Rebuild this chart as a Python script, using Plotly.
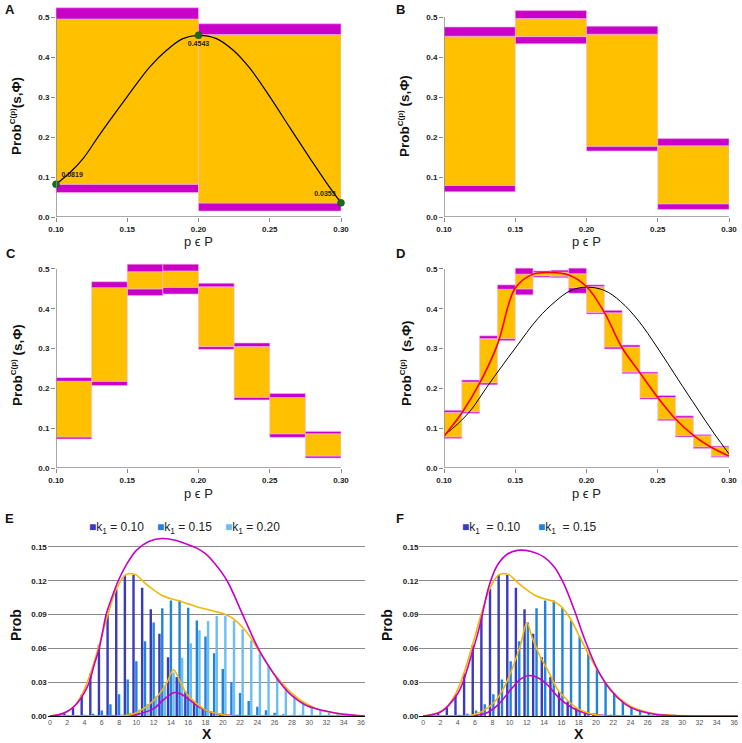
import plotly.graph_objects as go

FONT = "Liberation Sans, Arial, sans-serif"
MAG = "#C800C8"
YEL = "#FFC000"
EDGE = "#F4B6EE"

# ---------------- Panels A-D : interval probability bars ----------------
A_edges = [0.10, 0.20, 0.30]
A_bot = [0.061, 0.015]
A_low = [0.082, 0.035]
A_high = [0.495, 0.456]
A_top = [0.523, 0.483]

B_edges = [0.10, 0.15, 0.20, 0.25, 0.30]
B_bot = [0.063, 0.433, 0.165, 0.019]
B_low = [0.079, 0.451, 0.177, 0.033]
B_high = [0.452, 0.496, 0.457, 0.178]
B_top = [0.475, 0.516, 0.477, 0.196]

C_edges = [0.100, 0.125, 0.150, 0.175, 0.200, 0.225, 0.250, 0.275, 0.300]
C_bot = [0.073, 0.207, 0.433, 0.437, 0.298, 0.171, 0.077, 0.025]
C_low = [0.078, 0.218, 0.450, 0.454, 0.305, 0.178, 0.086, 0.030]
C_high = [0.218, 0.453, 0.493, 0.495, 0.455, 0.305, 0.177, 0.086]
C_top = [0.227, 0.468, 0.512, 0.512, 0.464, 0.314, 0.187, 0.092]

D_edges = [0.1000, 0.1125, 0.1250, 0.1375, 0.1500, 0.1625, 0.1750, 0.1875, 0.2000,
           0.2125, 0.2250, 0.2375, 0.2500, 0.2625, 0.2750, 0.2875, 0.3000]
D_bot = [0.074, 0.137, 0.209, 0.320, 0.435, 0.479, 0.478, 0.439, 0.387, 0.299, 0.237, 0.173, 0.119, 0.078, 0.049, 0.027]
D_low = [0.078, 0.141, 0.214, 0.325, 0.450, 0.483, 0.482, 0.453, 0.391, 0.304, 0.241, 0.177, 0.123, 0.082, 0.053, 0.030]
D_high = [0.140, 0.216, 0.325, 0.449, 0.487, 0.491, 0.492, 0.488, 0.456, 0.390, 0.304, 0.237, 0.177, 0.126, 0.081, 0.052]
D_top = [0.145, 0.221, 0.332, 0.460, 0.502, 0.495, 0.497, 0.502, 0.460, 0.396, 0.309, 0.241, 0.182, 0.131, 0.084, 0.055]

# labelled points of the black curve
curve_p = [0.10, 0.20, 0.30]
curve_prob = [0.0819, 0.4543, 0.0355]
curve_labels = ["0.0819", "0.4543", "0.0355"]
# black smooth curve read along its path
black_p = [0.100, 0.110, 0.119, 0.131, 0.150, 0.166, 0.178, 0.189, 0.200,
           0.2126, 0.224, 0.236, 0.250, 0.264, 0.278, 0.2897, 0.300]
black_prob = [0.0819, 0.112, 0.146, 0.208, 0.301, 0.376, 0.418, 0.446, 0.4543,
              0.446, 0.418, 0.372, 0.301, 0.224, 0.148, 0.086, 0.0355]

D_red_p = [0.1000, 0.1125, 0.1250, 0.1375, 0.1500, 0.1625, 0.1750, 0.1875, 0.2000,
           0.2125, 0.2250, 0.2375, 0.2500, 0.2625, 0.2750, 0.2875, 0.3000]
D_red_prob = [0.080, 0.138, 0.213, 0.310, 0.452, 0.487, 0.491, 0.485, 0.456,
              0.391, 0.302, 0.239, 0.177, 0.123, 0.082, 0.052, 0.030]

p_ticks = [0.10, 0.15, 0.20, 0.25, 0.30]
p_ticktext = ["0.10", "0.15", "0.20", "0.25", "0.30"]
prob_ticks = [0.0, 0.1, 0.2, 0.3, 0.4, 0.5]
prob_ticktext = ["0.0", "0.1", "0.2", "0.3", "0.4", "0.5"]

# ---------------- Panels E-F : distributions ----------------
X_vals = list(range(0, 37))
k010 = [0.0000, 0.0005, 0.0023, 0.0076, 0.0189, 0.0378, 0.0631, 0.0901, 0.1126, 0.1251,
        0.1251, 0.1137, 0.0948, 0.0729, 0.0521, 0.0347, 0.0217, 0.0128, 0.0071, 0.0037,
        0.0019, 0.0009, 0.0004, 0.0002, 0.0001, 0.0000, 0.0000, 0.0000, 0.0000, 0.0000,
        0.0000, 0.0000, 0.0000, 0.0000, 0.0000, 0.0000, 0.0000]
k015 = [0.0000, 0.0000, 0.0000, 0.0002, 0.0006, 0.0019, 0.0048, 0.0104, 0.0194, 0.0324,
        0.0486, 0.0663, 0.0829, 0.0956, 0.1024, 0.1024, 0.0960, 0.0847, 0.0706, 0.0557,
        0.0418, 0.0299, 0.0204, 0.0133, 0.0083, 0.0050, 0.0029, 0.0016, 0.0009, 0.0004,
        0.0002, 0.0001, 0.0000, 0.0000, 0.0000, 0.0000, 0.0000]
k020 = [0.0000, 0.0000, 0.0000, 0.0000, 0.0000, 0.0001, 0.0002, 0.0005, 0.0013, 0.0029,
        0.0058, 0.0106, 0.0176, 0.0271, 0.0387, 0.0516, 0.0646, 0.0760, 0.0844, 0.0888,
        0.0888, 0.0846, 0.0769, 0.0669, 0.0557, 0.0446, 0.0343, 0.0254, 0.0181, 0.0125,
        0.0083, 0.0054, 0.0034, 0.0020, 0.0012, 0.0007, 0.0004]

E_env_x = [0, 1, 2, 3, 4, 4.55, 5.1, 5.7, 6.1, 6.5, 7.2, 7.9, 8.9, 10, 11.5, 13, 14.5, 16, 17,
           18, 19, 20.5, 22.3, 24.1, 25.5, 26.6, 28, 29.5, 31, 32.5, 34, 36.4]
E_env_y = [0, 0.001, 0.004, 0.010, 0.021, 0.030, 0.045, 0.060, 0.075, 0.090, 0.106, 0.120,
           0.135, 0.147, 0.155, 0.1575, 0.156, 0.152, 0.149, 0.144, 0.136, 0.120, 0.090,
           0.060, 0.042, 0.030, 0.018, 0.010, 0.006, 0.0035, 0.0015, 0]
E_max_x = [0, 1.7, 2.7, 3.7, 4.7, 5.7, 6.7, 7.7, 8.7, 9.3, 10, 11, 12, 13, 14, 15, 16, 17, 18,
           19, 20, 21, 22, 23, 24, 25, 26, 27, 28, 29, 30, 31, 32, 34, 36.4]
E_max_y = [0, 0.003, 0.008, 0.019, 0.038, 0.063, 0.090, 0.113, 0.125, 0.1265, 0.125, 0.118,
           0.112, 0.107, 0.104, 0.102, 0.0995, 0.097, 0.095, 0.093, 0.091, 0.0875, 0.081,
           0.072, 0.060, 0.048, 0.037, 0.028, 0.020, 0.014, 0.0095, 0.006, 0.004, 0.0015, 0]
E_min_x = [0, 4, 8, 9.7, 11.6, 12.7, 13.5, 14.3, 15.1, 15.8, 17, 18.1, 19.7, 21.2, 25, 30, 36.4]
E_min_y = [0, 0, 0, 0.002, 0.011, 0.020, 0.029, 0.041, 0.030, 0.020, 0.011, 0.005, 0.0015, 0, 0, 0, 0]
E_low_x = [0, 4, 8, 9, 10.4, 12, 13.1, 14.3, 15.1, 16.2, 17.4, 18.9, 20.5, 22, 26, 31, 36.4]
E_low_y = [0, 0, 0, 0, 0.002, 0.0065, 0.014, 0.0207, 0.0198, 0.014, 0.0074, 0.0027, 0.0006, 0, 0, 0, 0]

F_env_x = [0, 2, 4, 4.6, 5.5, 6.2, 6.7, 7.6, 8.6, 9.8, 10.9, 12.5, 14, 15.2, 16.3, 17.5, 18.6,
           20.2, 21.7, 23.3, 24.8, 26.8, 28.7, 36.4]
F_env_y = [0, 0.0035, 0.020, 0.030, 0.052, 0.070, 0.085, 0.115, 0.134, 0.144, 0.147, 0.146,
           0.141, 0.132, 0.117, 0.094, 0.070, 0.041, 0.023, 0.011, 0.005, 0.0015, 0.0003, 0]
F_max_x = [0, 1.7, 2.7, 3.7, 4.7, 5.7, 6.7, 7.7, 8.7, 9.3, 10, 11, 12, 13, 14, 15, 15.5, 16,
           17, 18, 19, 20, 21, 22, 23, 24, 25, 26, 27.5, 29.5, 36.4]
F_max_y = [0, 0.003, 0.008, 0.019, 0.038, 0.063, 0.090, 0.113, 0.125, 0.1265, 0.125, 0.118,
           0.112, 0.107, 0.104, 0.102, 0.100, 0.097, 0.087, 0.072, 0.057, 0.043, 0.031, 0.021,
           0.014, 0.0088, 0.0055, 0.0033, 0.0012, 0.0003, 0]
F_min_x = [0, 3, 5.1, 6.7, 8.2, 9.4, 10.5, 11.3, 12, 12.6, 13.4, 14.6, 15.6, 16.7, 17.9, 19.4, 21, 26, 36.4]
F_min_y = [0, 0, 0, 0.0035, 0.012, 0.026, 0.046, 0.064, 0.083, 0.070, 0.055, 0.038, 0.023,
           0.014, 0.0065, 0.002, 0, 0, 0]
F_low_x = [0, 3, 5.1, 7.1, 8.6, 10.2, 11.3, 12.3, 13.5, 14.6, 15.6, 17.1, 18.6, 20.6, 23, 30, 36.4]
F_low_y = [0, 0, 0, 0.002, 0.0095, 0.024, 0.033, 0.036, 0.033, 0.026, 0.017, 0.008, 0.003,
           0.0006, 0, 0, 0]

X_ticks = list(range(0, 37, 2))
E_ticks = [0.00, 0.03, 0.06, 0.09, 0.12, 0.15]
E_ticktext = ["0.00", "0.03", "0.06", "0.09", "0.12", "0.15"]
legend_E = ["k<sub>1</sub> = 0.10", "k<sub>1</sub> = 0.15", "k<sub>1</sub> = 0.20"]
legend_F = ["k<sub>1</sub>  = 0.10", "k<sub>1</sub>  = 0.15"]
BLUE = ["#3A3ABE", "#1F84DB", "#6CBDF2"]

W, H = 742, 743
fig = go.Figure()


def xd(a, b):
    return [a / W, b / W]


def yd(bottom, top):
    return [1 - bottom / H, 1 - top / H]


def add_float(edges, bot, low, high, top, xa, ya):
    centers = [(edges[i] + edges[i + 1]) / 2 for i in range(len(edges) - 1)]
    widths = [edges[i + 1] - edges[i] for i in range(len(edges) - 1)]
    for b_list, t_list, col in [(bot, low, MAG), (low, high, YEL), (high, top, MAG)]:
        fig.add_trace(go.Bar(
            x=centers, y=[t - b for b, t in zip(b_list, t_list)], base=b_list, width=widths,
            marker=dict(color=col, line=dict(color=EDGE, width=0.6)),
            xaxis=xa, yaxis=ya, showlegend=False, hoverinfo="skip"))


add_float(A_edges, A_bot, A_low, A_high, A_top, "x", "y")
add_float(B_edges, B_bot, B_low, B_high, B_top, "x2", "y2")
add_float(C_edges, C_bot, C_low, C_high, C_top, "x3", "y3")
add_float(D_edges, D_bot, D_low, D_high, D_top, "x4", "y4")

# black curve (A) with labelled points
fig.add_trace(go.Scatter(x=black_p, y=black_prob, mode="lines", line=dict(color="black", width=1.2, shape="spline"),
                         xaxis="x", yaxis="y", showlegend=False))
fig.add_trace(go.Scatter(x=curve_p, y=curve_prob, mode="markers+text", text=curve_labels,
                         textposition=["top right", "bottom center", "top left"],
                         textfont=dict(family=FONT, size=7, color="#222", weight="bold"),
                         marker=dict(color="#1E6B1E", size=7, line=dict(color="#0E4A0E", width=0.5)),
                         xaxis="x", yaxis="y", showlegend=False, cliponaxis=False))
# D curves
fig.add_trace(go.Scatter(x=black_p, y=black_prob, mode="lines", line=dict(color="black", width=1, shape="spline"),
                         xaxis="x4", yaxis="y4", showlegend=False))
fig.add_trace(go.Scatter(x=D_red_p, y=D_red_prob, mode="lines", line=dict(color="#FF0000", width=1.6, shape="spline"),
                         xaxis="x4", yaxis="y4", showlegend=False))

# E bars
for vals, col, off in [(k010, BLUE[0], -0.47), (k015, BLUE[1], -0.14), (k020, BLUE[2], 0.16)]:
    fig.add_trace(go.Bar(x=X_vals, y=vals, width=0.28, offset=off, marker=dict(color=col, line=dict(width=0)),
                         xaxis="x5", yaxis="y5", showlegend=False))
for vals, col, off in [(k010, BLUE[0], -0.41), (k015, BLUE[1], -0.02)]:
    fig.add_trace(go.Bar(x=X_vals, y=vals, width=0.28, offset=off, marker=dict(color=col, line=dict(width=0)),
                         xaxis="x6", yaxis="y6", showlegend=False))

for xs, ys, col, xa, ya in [
    (E_low_x, E_low_y, MAG, "x5", "y5"), (E_min_x, E_min_y, "#F2B705", "x5", "y5"),
    (E_max_x, E_max_y, "#F2B705", "x5", "y5"), (E_env_x, E_env_y, MAG, "x5", "y5"),
    (F_low_x, F_low_y, MAG, "x6", "y6"), (F_min_x, F_min_y, "#F2B705", "x6", "y6"),
    (F_max_x, F_max_y, "#F2B705", "x6", "y6"), (F_env_x, F_env_y, MAG, "x6", "y6")]:
    fig.add_trace(go.Scatter(x=xs, y=ys, mode="lines", line=dict(color=col, width=1.6, shape="spline", smoothing=0.9),
                             xaxis=xa, yaxis=ya, showlegend=False, hoverinfo="skip"))

tickfont = dict(family=FONT, size=8, color="#222", weight="bold")

panels = {
    "": (xd(56, 341), yd(217, 7)),
    "2": (xd(444, 729), yd(217, 7)),
    "3": (xd(56, 341), yd(468, 259)),
    "4": (xd(444, 729), yd(468, 259)),
}
layout = dict(width=W, height=H, margin=dict(l=0, r=0, t=0, b=0, pad=0, autoexpand=False),
              paper_bgcolor="white", plot_bgcolor="white", barmode="overlay", showlegend=False)
shapes = []
for k, (xdom, ydom) in panels.items():
    layout["xaxis" + k] = dict(domain=xdom, range=[0.10, 0.30], tickvals=p_ticks, ticktext=p_ticktext,
                               ticks="outside", ticklen=4, tickcolor="#888", tickwidth=1, showgrid=False,
                               zeroline=False, showline=False, tickfont=tickfont, automargin=False,
                               anchor="y" + k)
    layout["yaxis" + k] = dict(domain=ydom, range=[0, 0.525], tickvals=prob_ticks, ticktext=prob_ticktext,
                               ticks="outside", ticklen=4, tickcolor="#888", tickwidth=1, showgrid=False,
                               zeroline=False, showline=False, tickfont=tickfont, automargin=False,
                               anchor="x" + k)
    xr = "x" + k
    yr = "y" + k
    shapes.append(dict(type="line", xref=xr, yref=yr, x0=0.10, x1=0.10, y0=0, y1=0.5,
                       line=dict(color="#8C8C8C", width=1.5), layer="above"))
    shapes.append(dict(type="line", xref=xr, yref=yr, x0=0.10, x1=0.30, y0=0, y1=0,
                       line=dict(color="#8C8C8C", width=1.5), layer="above"))

for k, xdom in [("5", xd(47.8, 364.9)), ("6", xd(419.4, 737.9))]:
    rng = [-0.25, 36.45] if k == "5" else [-0.45, 36.45]
    layout["xaxis" + k] = dict(domain=xdom, range=rng, tickvals=X_ticks, ticks="", showgrid=False,
                               zeroline=False, showline=True, linecolor="black", linewidth=1, automargin=False,
                               tickfont=dict(family=FONT, size=7, color="#555"), anchor="y" + k)
    layout["yaxis" + k] = dict(domain=yd(716, 535.7), range=[0, 0.16], tickvals=E_ticks, ticktext=E_ticktext,
                               ticks="", showgrid=True, gridcolor="#8A8A8A", gridwidth=1, zeroline=False,
                               showline=False, tickfont=tickfont, automargin=False, anchor="x" + k)
layout["shapes"] = shapes

ann = []


def note(text, x, y, size, xanchor="center", angle=0, weight="bold", color="#111"):
    ann.append(dict(text=text, x=x / W, y=1 - y / H, xref="paper", yref="paper", showarrow=False,
                    xanchor=xanchor, yanchor="middle", textangle=angle,
                    font=dict(family=FONT, size=size, color=color, weight=weight)))


SUP = "<sup><span style='font-size:8px'>C(p)</span></sup>"
ytitle = "Prob" + SUP + "(s,Φ)"
ytitle2 = "Prob" + SUP + " (s,Φ)"
ytitle4 = "Prob" + SUP + "  (s,Φ)"
for txt, x, y in [(ytitle, 16, 116), (ytitle2, 404, 116), (ytitle2, 17, 365), (ytitle4, 406, 363)]:
    note(txt, x, y, 13.5, angle=-90)
for x, y in [(198.5, 241), (586.5, 241), (198.5, 493), (586.5, 493)]:
    note("p ϵ P", x, y, 13, weight="normal", color="#222")
for t, x, y in [("A", 3, 9.5), ("B", 394, 9.5), ("C", 4, 254), ("D", 394, 254), ("E", 3, 518), ("F", 394, 518)]:
    note(t, x, y, 13, xanchor="left")
for x in [16, 387]:
    note("Prob", x, 625, 14, angle=-90)
for x in [206.5, 578.5]:
    note("X", x, 734, 14)
# legends
for labels, x0, gap in [(legend_E, 87, 68), (legend_F, 460, 76)]:
    for i, lab in enumerate(labels):
        note("<span style='color:%s'>■</span>%s" % (BLUE[i], lab), x0 + i * gap, 528, 12,
             xanchor="left", weight="normal", color="#222")
layout["annotations"] = ann
fig.update_layout(**layout)
fig.write_html("out.html", config={"displayModeBar": False},
               post_script="document.body.style.margin='0px';document.body.style.padding='0px';document.body.style.overflow='hidden';")
